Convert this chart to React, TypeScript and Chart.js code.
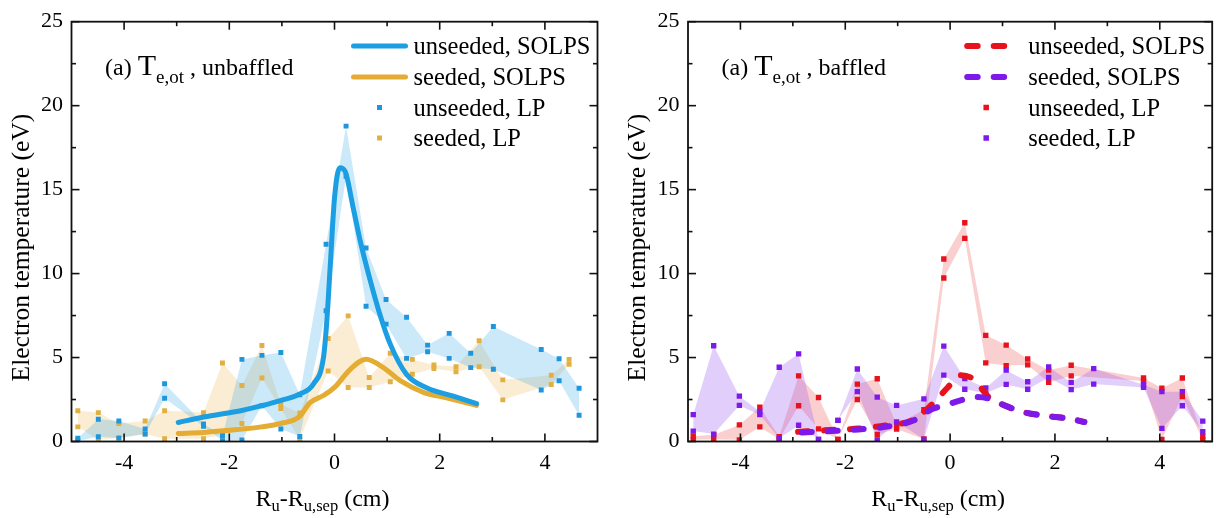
import React, { useEffect, useRef } from "react";
import { Chart, registerables } from "chart.js";
Chart.register(...registerables);

const FONT = "'Liberation Serif', 'Times New Roman', Times, serif";

// ---------- axes ----------
const X_TICKS = [-4, -2, 0, 2, 4];
const X_MINOR = [-3, -1, 1, 3];
const Y_TICKS = [0, 5, 10, 15, 20, 25];
const Y_MINOR = [2.5, 7.5, 12.5, 17.5, 22.5];

// ---------- panel (a) unbaffled ----------
const unbSolpsUnseededX = [-2.97, -2.49, -1.76, -1.39, -1.03, -0.66, -0.4, -0.21, -0.15, -0.08, 0.0, 0.1, 0.2, 0.35, 0.5, 0.67, 0.86, 1.06, 1.37, 1.75, 2.26, 2.7];
const unbSolpsUnseededY = [1.13, 1.46, 1.85, 2.13, 2.44, 2.83, 3.42, 5.0, 7.0, 10.5, 14.5, 16.3, 16.1, 14.0, 11.8, 9.7, 7.6, 5.8, 4.0, 3.2, 2.7, 2.25];
const unbSolpsSeededX = [-2.97, -2.49, -1.76, -1.39, -1.03, -0.66, -0.47, -0.21, 0, 0.3, 0.6, 0.93, 1.25, 1.69, 2.13, 2.7];
const unbSolpsSeededY = [0.48, 0.54, 0.74, 0.87, 1.07, 1.5, 2.3, 2.74, 3.22, 4.3, 4.9, 4.4, 3.62, 2.93, 2.6, 2.15];

const unbLpUnseededX = [-4.88, -4.49, -4.1, -3.6, -3.23, -2.49, -2.13, -1.76, -1.38, -1.02, -0.66, -0.16, 0.22, 0.6, 0.98, 1.37, 1.77, 2.18, 2.59, 3.02, 3.93, 4.27, 4.65];
const unbLpUnseededHi = [0.19, 1.32, 1.22, 0.75, 3.44, 1.05, 0.34, 4.89, 5.13, 5.3, 2.79, 11.75, 18.78, 11.52, 8.46, 7.4, 5.74, 6.44, 5.26, 6.85, 5.48, 4.93, 3.17];
const unbLpUnseededLo = [0.05, 0.28, 0.2, 0.45, 2.58, 0.9, 0.05, 0.09, 2.13, 0.75, 0.3, 7.79, 15.8, 8.05, 6.99, 4.95, 5.34, 4.95, 4.4, 4.3, 3.07, 3.62, 1.56];

const unbLpSeededX = [-4.88, -4.49, -4.1, -3.6, -3.23, -2.49, -2.13, -1.76, -1.38, -1.02, -0.66, -0.12, 0.26, 0.66, 1.06, 1.48, 1.89, 2.31, 2.75, 3.2, 4.12, 4.46];
const unbLpSeededHi = [1.83, 1.72, 1.07, 1.22, 1.83, 1.72, 4.68, 3.34, 5.72, 2.2, 1.7, 6.13, 7.48, 3.81, 5.25, 4.89, 4.56, 4.46, 6.0, 3.67, 3.95, 4.89];
const unbLpSeededLo = [0.87, 0.1, 0.22, 0.44, 0.17, 0.17, 0.4, 1.07, 3.78, 1.97, 0.13, 4.2, 3.22, 3.22, 3.56, 4.01, 4.34, 4.15, 4.45, 2.48, 3.4, 4.6];

// ---------- panel (a) baffled ----------
const bafSolpsUnseededX = [-2.9, -2.3, -1.75, -1.24, -0.7, -0.35, -0.05, 0.2, 0.45, 0.75, 1.0, 1.4, 1.9, 2.3, 2.56];
const bafSolpsUnseededY = [0.58, 0.68, 0.77, 0.95, 1.3, 2.2, 3.2, 3.95, 3.7, 2.6, 2.2, 1.75, 1.5, 1.35, 1.16];
const bafSolpsSeededX = [-2.83, -2.26, -1.75, -1.24, -0.7, -0.33, -0.1, 0.2, 0.45, 0.75, 1.0, 1.4, 1.9, 2.3, 2.56];
const bafSolpsSeededY = [0.54, 0.62, 0.72, 0.87, 1.25, 1.95, 2.15, 2.45, 2.65, 2.55, 2.2, 1.75, 1.5, 1.35, 1.16];

const bafLpUnseededX = [-4.9, -4.51, -4.02, -3.63, -3.26, -2.89, -2.51, -2.14, -1.77, -1.39, -1.02, -0.5, -0.12, 0.28, 0.68, 1.07, 1.48, 1.88, 2.31, 3.69, 4.04, 4.43, 4.82];
const bafLpUnseededHi = [0.32, 0.4, 0.99, 2.05, 0.28, 3.91, 2.62, 0.13, 3.42, 3.74, 1.0, 1.89, 10.87, 13.03, 6.32, 5.74, 4.91, 4.25, 4.54, 3.78, 3.17, 3.78, 0.3];
const bafLpUnseededLo = [0.1, 0.13, 0.1, 0.87, 0.13, 2.13, 0.75, 0.13, 2.5, 0.42, 0.74, 0.15, 9.74, 12.1, 4.68, 4.52, 4.56, 3.52, 3.91, 3.6, 0.13, 2.68, 0.09];

const bafLpSeededX = [-4.9, -4.51, -4.02, -3.63, -3.26, -2.89, -2.51, -2.14, -1.77, -1.39, -1.02, -0.5, -0.12, 0.28, 0.68, 1.07, 1.48, 1.88, 2.31, 2.74, 3.69, 4.04, 4.43, 4.82];
const bafLpSeededHi = [1.6, 5.7, 2.7, 1.79, 4.42, 5.22, 0.13, 1.26, 4.32, 2.64, 2.15, 2.54, 5.68, 3.75, 3.19, 4.25, 3.56, 4.44, 3.52, 4.34, 3.38, 2.97, 2.97, 1.21];
const bafLpSeededLo = [0.62, 0.44, 2.15, 1.6, 0.19, 0.97, 0.13, 1.26, 2.97, 0.1, 1.17, 0.13, 3.95, 3.11, 2.87, 3.4, 3.11, 3.81, 3.09, 3.42, 3.22, 0.78, 2.13, 0.58];

// ---------- text ----------
const LEGEND_LABELS = ["unseeded, SOLPS", "seeded, SOLPS", "unseeded, LP", "seeded, LP"];
const Y_TITLE = "Electron temperature (eV)";

// ---------- colours ----------
const BLUE = "rgb(27,158,226)";
const GOLD = "rgb(228,172,50)";
const BLUE_PT = "rgb(30,150,222)";
const GOLD_PT = "rgb(226,176,66)";
const BLUE_FILL = "rgba(40,165,235,0.24)";
const GOLD_FILL = "rgba(235,180,70,0.24)";
const RED = "rgb(232,18,28)";
const PURPLE = "rgb(125,25,235)";
const RED_FILL = "rgba(240,95,95,0.3)";
const PURPLE_FILL = "rgba(150,80,240,0.28)";

function series(xs: number[], ys: number[]) {
  return xs.map((x, i) => ({ x, y: ys[i] }));
}

function bandSets(xs: number[], hi: number[], lo: number[], ptColor: string, fillColor: string, r: number) {
  const base: any = {
    borderColor: "rgba(0,0,0,0)",
    borderWidth: 0,
    pointStyle: "rect",
    pointRadius: r,
    pointHoverRadius: r,
    pointBackgroundColor: ptColor,
    pointBorderWidth: 0,
    tension: 0,
    order: 1,
  };
  return [
    { ...base, data: series(xs, hi), fill: false },
    { ...base, data: series(xs, lo), fill: "-1", backgroundColor: fillColor },
  ];
}

function solpsSet(xs: number[], ys: number[], color: string, dashed: boolean) {
  return {
    data: series(xs, ys),
    borderColor: color,
    borderWidth: dashed ? 6 : 5,
    borderDash: dashed ? [10, 16] : [],
    borderCapStyle: "round",
    borderJoinStyle: "round",
    pointRadius: 0,
    pointHoverRadius: 0,
    cubicInterpolationMode: "monotone",
    fill: false,
    order: 0,
  };
}

type Part = { text: string; size: number; dy?: number };

function drawRich(ctx: CanvasRenderingContext2D, parts: Part[], x: number, y: number, align: "left" | "center") {
  const widths = parts.map((p) => {
    ctx.font = `${p.size}px ${FONT}`;
    return ctx.measureText(p.text).width;
  });
  const total = widths.reduce((a, b) => a + b, 0);
  let cx = align === "center" ? x - total / 2 : x;
  ctx.textAlign = "left";
  ctx.textBaseline = "alphabetic";
  parts.forEach((p, i) => {
    ctx.font = `${p.size}px ${FONT}`;
    ctx.fillText(p.text, cx, y + (p.dy || 0));
    cx += widths[i];
  });
}

const framePlugin = {
  id: "frame",
  afterDraw(chart: any) {
    const { ctx, chartArea } = chart;
    const { left, right, top, bottom } = chartArea;
    const xs = chart.scales.x;
    const ys = chart.scales.y;
    ctx.save();
    ctx.strokeStyle = "#111";
    ctx.lineWidth = 1.8;
    ctx.strokeRect(left, top, right - left, bottom - top);
    ctx.lineWidth = 1.6;
    const seg = (a: number, b: number, c: number, d: number) => {
      ctx.beginPath();
      ctx.moveTo(a, b);
      ctx.lineTo(c, d);
      ctx.stroke();
    };
    const MAJ = 8;
    const MIN = 4.5;
    X_TICKS.forEach((v) => {
      const p = xs.getPixelForValue(v);
      seg(p, bottom, p, bottom - MAJ);
      seg(p, top, p, top + MAJ);
    });
    X_MINOR.forEach((v) => {
      const p = xs.getPixelForValue(v);
      seg(p, bottom, p, bottom - MIN);
      seg(p, top, p, top + MIN);
    });
    Y_TICKS.forEach((v) => {
      const p = ys.getPixelForValue(v);
      seg(left, p, left + MAJ, p);
      seg(right, p, right - MAJ, p);
    });
    Y_MINOR.forEach((v) => {
      const p = ys.getPixelForValue(v);
      seg(left, p, left + MIN, p);
      seg(right, p, right - MIN, p);
    });
    ctx.restore();
  },
};

type LegendEntry = { kind: "line" | "dash" | "point"; color: string; label: string };

type PanelSpec = {
  padRight: number;
  yWidth: number;
  yTitleX: number;
  labelTail: string;
  sampleStart: number;
  sampleEnd: number;
  legend: LegendEntry[];
  datasets: any[];
  ptSize: number;
};

function decorPlugin(p: PanelSpec) {
  return {
    id: "decor",
    afterDraw(chart: any) {
      const { ctx, chartArea } = chart;
      const { left, right, top, bottom } = chartArea;
      ctx.save();
      ctx.fillStyle = "#000";
      // panel label
      drawRich(
        ctx,
        [
          { text: "(a) ", size: 24 },
          { text: "T", size: 30 },
          { text: "e,ot", size: 19, dy: 8 },
          { text: p.labelTail, size: 24 },
        ],
        left + 33.5,
        75,
        "left"
      );
      // legend
      const rows = [46, 77, 107.5, 138];
      p.legend.forEach((e, i) => {
        const cy = rows[i];
        const x0 = right - p.sampleStart;
        const x1 = right - p.sampleEnd;
        ctx.save();
        if (e.kind === "line") {
          ctx.strokeStyle = e.color;
          ctx.lineWidth = 5;
          ctx.lineCap = "round";
          ctx.beginPath();
          ctx.moveTo(x0 + 2.5, cy);
          ctx.lineTo(x1 - 2.5, cy);
          ctx.stroke();
        } else if (e.kind === "dash") {
          ctx.strokeStyle = e.color;
          ctx.lineWidth = 6;
          ctx.lineCap = "round";
          ctx.setLineDash([10.5, 16]);
          ctx.beginPath();
          ctx.moveTo(x0 + 3, cy);
          ctx.lineTo(x1 - 3, cy);
          ctx.stroke();
        } else {
          ctx.fillStyle = e.color;
          const s = p.ptSize;
          ctx.fillRect((x0 + x1) / 2 - s / 2, cy - s / 2, s, s);
        }
        ctx.restore();
        ctx.fillStyle = "#000";
        ctx.font = `24.5px ${FONT}`;
        ctx.textAlign = "left";
        ctx.textBaseline = "alphabetic";
        ctx.fillText(e.label, right - 184, cy + 8);
      });
      // y title
      ctx.save();
      ctx.translate(p.yTitleX, (top + bottom) / 2 + 16);
      ctx.rotate(-Math.PI / 2);
      drawRich(ctx, [{ text: Y_TITLE, size: 25.5 }], 0, 0, "center");
      ctx.restore();
      // x title
      drawRich(
        ctx,
        [
          { text: "R", size: 24 },
          { text: "u", size: 16.5, dy: 5 },
          { text: "-R", size: 24 },
          { text: "u,sep", size: 16.5, dy: 5 },
          { text: " (cm)", size: 24 },
        ],
        (left + right) / 2 - 12,
        506,
        "center"
      );
      ctx.restore();
    },
  };
}

function makeChart(canvas: HTMLCanvasElement, p: PanelSpec) {
  return new Chart(canvas, {
    type: "line",
    data: { datasets: p.datasets },
    options: {
      responsive: false,
      animation: false,
      devicePixelRatio: 1,
      events: [],
      layout: { padding: { left: 0, top: 16.5, right: p.padRight, bottom: 0 } },
      plugins: {
        legend: { display: false },
        tooltip: { enabled: false },
        filler: { drawTime: "beforeDatasetsDraw" },
      },
      scales: {
        x: {
          type: "linear",
          min: -5,
          max: 5,
          grid: { display: false, drawTicks: false },
          border: { display: false },
          afterBuildTicks: (s: any) => {
            s.ticks = X_TICKS.map((v) => ({ value: v }));
          },
          afterFit: (s: any) => {
            s.height = 76.5;
          },
          ticks: {
            color: "#000",
            font: { family: FONT, size: 22 },
            padding: 9,
            maxRotation: 0,
            autoSkip: false,
            callback: (v: any) => String(v),
          },
        },
        y: {
          type: "linear",
          min: 0,
          max: 25,
          grid: { display: false, drawTicks: false },
          border: { display: false },
          afterBuildTicks: (s: any) => {
            s.ticks = Y_TICKS.map((v) => ({ value: v }));
          },
          afterFit: (s: any) => {
            s.width = p.yWidth;
          },
          ticks: {
            color: "#000",
            font: { family: FONT, size: 22 },
            padding: 8.5,
            autoSkip: false,
            callback: (v: any) => String(v),
          },
        },
      },
    } as any,
    plugins: [framePlugin, decorPlugin(p)],
  } as any);
}

const leftSpec: PanelSpec = {
  padRight: 10.5,
  yWidth: 71.5,
  yTitleX: 29,
  labelTail: " , unbaffled",
  sampleStart: 246.5,
  sampleEnd: 189.5,
  ptSize: 5,
  legend: [
    { kind: "line", color: BLUE, label: LEGEND_LABELS[0] },
    { kind: "line", color: GOLD, label: LEGEND_LABELS[1] },
    { kind: "point", color: BLUE_PT, label: LEGEND_LABELS[2] },
    { kind: "point", color: GOLD_PT, label: LEGEND_LABELS[3] },
  ],
  datasets: [
    solpsSet(unbSolpsUnseededX, unbSolpsUnseededY, BLUE, false),
    solpsSet(unbSolpsSeededX, unbSolpsSeededY, GOLD, false),
    ...bandSets(unbLpUnseededX, unbLpUnseededHi, unbLpUnseededLo, BLUE_PT, BLUE_FILL, 3.5),
    ...bandSets(unbLpSeededX, unbLpSeededHi, unbLpSeededLo, GOLD_PT, GOLD_FILL, 3.5),
  ],
};

const rightSpec: PanelSpec = {
  padRight: 3,
  yWidth: 80,
  yTitleX: 37,
  labelTail: " , baffled",
  sampleStart: 248,
  sampleEnd: 204,
  ptSize: 5.5,
  legend: [
    { kind: "dash", color: RED, label: LEGEND_LABELS[0] },
    { kind: "dash", color: PURPLE, label: LEGEND_LABELS[1] },
    { kind: "point", color: RED, label: LEGEND_LABELS[2] },
    { kind: "point", color: PURPLE, label: LEGEND_LABELS[3] },
  ],
  datasets: [
    solpsSet(bafSolpsSeededX, bafSolpsSeededY, PURPLE, true),
    solpsSet(bafSolpsUnseededX, bafSolpsUnseededY, RED, true),
    ...bandSets(bafLpSeededX, bafLpSeededHi, bafLpSeededLo, PURPLE, PURPLE_FILL, 3.8),
    ...bandSets(bafLpUnseededX, bafLpUnseededHi, bafLpUnseededLo, RED, RED_FILL, 3.8),
  ],
};

function Panel({ spec, left }: { spec: PanelSpec; left: number }) {
  const ref = useRef<HTMLCanvasElement | null>(null);
  useEffect(() => {
    if (!ref.current) return;
    const chart = makeChart(ref.current, spec);
    return () => chart.destroy();
  }, [spec]);
  return (
    <canvas
      ref={ref}
      width={608}
      height={518}
      style={{ position: "absolute", left, top: 0, width: 608, height: 518 }}
    />
  );
}

export default function App() {
  return (
    <div style={{ position: "absolute", left: 0, top: 0, width: 1216, height: 518, background: "#fff", overflow: "hidden" }}>
      <Panel spec={leftSpec} left={0} />
      <Panel spec={rightSpec} left={608} />
    </div>
  );
}
